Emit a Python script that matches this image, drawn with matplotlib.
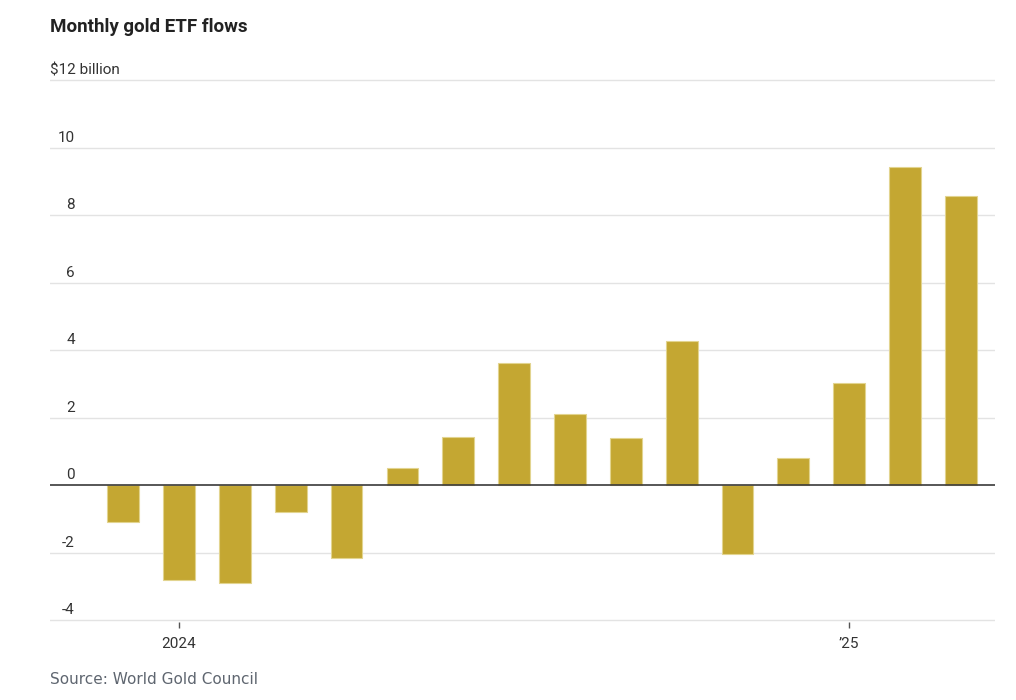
import matplotlib
matplotlib.use("Agg")
import matplotlib.pyplot as plt
import matplotlib.transforms as mtransforms

# Monthly gold ETF flows, Dec 2023 - Mar 2025 ($ billion)
months = ["Dec 23", "Jan 24", "Feb 24", "Mar 24", "Apr 24", "May 24", "Jun 24",
          "Jul 24", "Aug 24", "Sep 24", "Oct 24", "Nov 24", "Dec 24",
          "Jan 25", "Feb 25", "Mar 25"]
flows = [-1.09, -2.81, -2.89, -0.81, -2.17, 0.51, 1.43, 3.63, 2.10, 1.40,
         4.28, -2.05, 0.79, 3.02, 9.42, 8.58]
y_ticks = [-4, -2, 0, 2, 4, 6, 8, 10, 12]
x_tick_pos = [1, 13]
x_tick_labels = ["2024", "\u201925"]

GOLD = "#c4a732"
GRID = "#e3e3e3"
TEXT = "#333333"

fig = plt.figure(figsize=(10.16, 7.0), dpi=100)
ax = fig.add_axes([50 / 1016, 1 - 622 / 700, 945 / 1016, 545 / 700])

x = list(range(len(flows)))
ax.bar(x, flows, width=0.57, color=GOLD, edgecolor="#e2d48f", linewidth=0.8, zorder=3)

ax.set_ylim(-4.06, 12.1)
ax.set_xlim(-1.31, 15.61)

for v in y_ticks:
    if v == 0:
        ax.axhline(0, color="#3a3a3a", lw=1.2, zorder=4)
    else:
        ax.axhline(v, color=GRID, lw=1.0, zorder=1)

# y labels sit above the gridlines
trans = mtransforms.blended_transform_factory(ax.transAxes, ax.transData)
off = mtransforms.offset_copy(trans, fig=fig, y=3, units="dots")
for v in y_ticks:
    if v == 12:
        ax.text(0.0, v, "$12 billion", transform=off, ha="left", va="bottom",
                fontsize=11, color=TEXT, family="Roboto")
    else:
        ax.text(25 / 945, v, str(v), transform=off, ha="right", va="bottom",
                fontsize=11, color=TEXT, family="Roboto")

ax.set_yticks([])
ax.set_xticks(x_tick_pos)
ax.set_xticklabels(x_tick_labels, fontsize=11, color=TEXT, family="Roboto")
ax.tick_params(axis="x", length=4, width=1, color="#555555", pad=7)

for s in ax.spines.values():
    s.set_visible(False)

fig.text(50 / 1016, 1 - 27 / 700, "Monthly gold ETF flows", ha="left", va="center",
         fontsize=13.5, fontweight="bold", color="#222222", family="Roboto")
fig.text(50 / 1016, 1 - 679 / 700, "Source: World Gold Council", ha="left", va="center",
         fontsize=11, color="#5f6670", family="DejaVu Sans")

fig.savefig("out.png", dpi=100)
